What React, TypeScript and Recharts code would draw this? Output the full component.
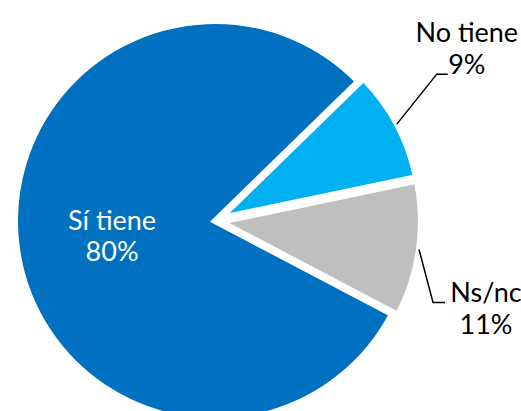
import React from 'react';
import { PieChart, Pie, Cell, Sector } from 'recharts';

// slices, counter-clockwise from the lower right edge of the grey slice
const categories = ['Ns/nc', 'No tiene', 'Sí tiene'];
const shares = [11, 9, 80];
const colors = ['#BFBFBF', '#00B0F0', '#0070C0'];

const data = categories.map((name, i) => ({ name, value: shares[i] }));

const RAD = Math.PI / 180;
const polar = (cx: number, cy: number, r: number, deg: number) => ({
  x: cx + r * Math.cos(-deg * RAD),
  y: cy + r * Math.sin(-deg * RAD),
});

const FONT = 'Lato, "Open Sans", sans-serif';

// small slices are pulled out a little from the centre
const ExplodedSector = (props: any) => {
  const { cx, cy, midAngle, name } = props;
  const off = name === 'Sí tiene' ? 0 : 6;
  const p = polar(cx, cy, off, midAngle);
  return <Sector {...props} cx={p.x} cy={p.y} />;
};

// leader-line offsets for the outside labels
const leaders: Record<string, { elbow: [number, number]; tail: number; textDx: number; above: boolean }> = {
  'No tiene': { elbow: [40, -50], tail: 11, textDx: 19, above: true },
  'Ns/nc': { elbow: [14, 53], tail: 12, textDx: 41, above: false },
};

const renderLabel = (props: any) => {
  const { cx, cy, midAngle, outerRadius, name, value } = props;
  const pct = `${value}%`;
  if (name === 'Sí tiene') {
    const p = polar(cx, cy, outerRadius * 0.52, midAngle);
    return (
      <text x={p.x} y={p.y - 6} textAnchor="middle" fill="#fff" fontSize={27} fontFamily={FONT}>
        <tspan x={p.x}>{name}</tspan>
        <tspan x={p.x} dy={31}>{pct}</tspan>
      </text>
    );
  }
  const cfg = leaders[name];
  const s = polar(cx, cy, outerRadius + 6, midAngle);
  const e = { x: s.x + cfg.elbow[0], y: s.y + cfg.elbow[1] };
  const t = { x: e.x + cfg.tail, y: e.y };
  const tx = t.x + cfg.textDx;
  const y0 = cfg.above ? t.y - 32 : t.y;
  return (
    <g>
      <polyline points={`${s.x},${s.y} ${e.x},${e.y} ${t.x},${t.y}`} fill="none" stroke="#000" strokeWidth={1.5} />
      <text x={tx} y={y0} textAnchor="middle" fill="#000" fontSize={27} fontFamily={FONT}>
        <tspan x={tx}>{name}</tspan>
        <tspan x={tx} dy={32}>{pct}</tspan>
      </text>
    </g>
  );
};

export default function App() {
  return (
    <div style={{ position: 'absolute', left: 0, top: 0, width: 521, height: 411, background: '#fff' }}>
      <PieChart width={521} height={411}>
        <Pie
          data={data}
          dataKey="value"
          nameKey="name"
          cx={210}
          cy={216}
          outerRadius={200}
          startAngle={-27.75}
          endAngle={332.25}
          stroke="#fff"
          strokeWidth={6}
          shape={ExplodedSector}
          label={renderLabel}
          labelLine={false}
          isAnimationActive={false}
        >
          {data.map((d, i) => (
            <Cell key={d.name} fill={colors[i]} />
          ))}
        </Pie>
      </PieChart>
    </div>
  );
}
